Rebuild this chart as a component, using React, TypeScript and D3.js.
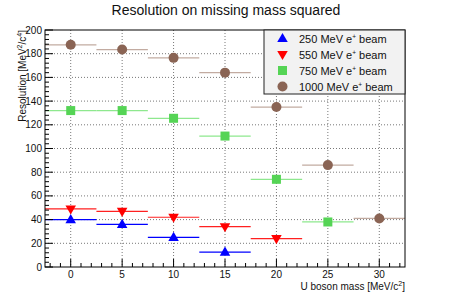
import React, { useRef, useEffect } from 'react';
import * as d3 from 'd3';

const massPoints = [0, 5, 10, 15, 20, 25, 30];
const res250 = [40, 36, 25, 12.5];
const res550 = [49, 47, 42, 34, 24];
const res750 = [132, 132, 125.5, 110.5, 74, 38];
const res1000 = [187.5, 183.5, 176.5, 164, 135, 86, 41];
const seriesNames = ['250 MeV e', '550 MeV e', '750 MeV e', '1000 MeV e'];
const xTicks = [0, 5, 10, 15, 20, 25, 30];
const yTicks = [0, 20, 40, 60, 80, 100, 120, 140, 160, 180, 200];

const series = [
  { name: seriesNames[0], values: res250, shape: 'up', fill: '#0000ff', line: '#0000ff' },
  { name: seriesNames[1], values: res550, shape: 'down', fill: '#ff0000', line: '#ff2020' },
  { name: seriesNames[2], values: res750, shape: 'square', fill: '#55d455', line: '#8ee88e' },
  { name: seriesNames[3], values: res1000, shape: 'circle', fill: '#8a6454', line: '#c2aba1' },
];

export default function App() {
  const svgRef = useRef<SVGSVGElement>(null);

  useEffect(() => {
    const svg = d3.select(svgRef.current);
    svg.selectAll('*').remove();
    const font = 'Liberation Sans, Arial, sans-serif';

    const left = 45, right = 405, top = 30, bottom = 267;
    const x = d3.scaleLinear().domain([-2.5, 32.5]).range([left, right]);
    const y = d3.scaleLinear().domain([0, 200]).range([bottom, top]);

    svg.append('rect').attr('width', 450).attr('height', 297).attr('fill', 'white');

    // grid
    const grid = svg.append('g').attr('stroke', '#555').attr('stroke-width', 0.8)
      .attr('stroke-dasharray', '1,2');
    xTicks.forEach(t => {
      grid.append('line').attr('x1', x(t)).attr('x2', x(t)).attr('y1', top).attr('y2', bottom);
    });
    yTicks.slice(1, -1).forEach(t => {
      grid.append('line').attr('x1', left).attr('x2', right).attr('y1', y(t)).attr('y2', y(t));
    });

    // error bars + markers
    const g = svg.append('g');
    series.forEach(s => {
      s.values.forEach((v, i) => {
        const m = massPoints[i];
        g.append('line')
          .attr('x1', x(m - 2.5)).attr('x2', x(m + 2.5))
          .attr('y1', y(v)).attr('y2', y(v))
          .attr('stroke', s.line).attr('stroke-width', 1.2);
      });
    });
    const drawMarker = (sel, shape, fill, cx, cy) => {
      if (shape === 'circle') {
        sel.append('circle').attr('cx', cx).attr('cy', cy).attr('r', 5).attr('fill', fill);
      } else if (shape === 'square') {
        sel.append('rect').attr('x', cx - 4.5).attr('y', cy - 4.5).attr('width', 9).attr('height', 9).attr('fill', fill);
      } else {
        const sym = d3.symbol().type(d3.symbolTriangle).size(48);
        sel.append('path').attr('d', sym())
          .attr('transform', `translate(${cx},${cy + (shape === 'up' ? 0.5 : -0.5)}) rotate(${shape === 'up' ? 0 : 180})`)
          .attr('fill', fill);
      }
    };
    series.forEach(s => {
      s.values.forEach((v, i) => drawMarker(g, s.shape, s.fill, x(massPoints[i]), y(v)));
    });

    // frame
    svg.append('rect').attr('x', left).attr('y', top).attr('width', right - left).attr('height', bottom - top)
      .attr('fill', 'none').attr('stroke', '#000').attr('stroke-width', 1);

    // ticks
    const ax = svg.append('g').attr('stroke', '#000').attr('stroke-width', 1);
    d3.range(0, 201, 4).forEach(t => {
      const len = t % 20 === 0 ? 8 : 4;
      ax.append('line').attr('x1', left).attr('x2', left + len).attr('y1', y(t)).attr('y2', y(t));
    });
    d3.range(-2, 33, 1).forEach(t => {
      const len = t % 5 === 0 ? 8 : 4;
      ax.append('line').attr('x1', x(t)).attr('x2', x(t)).attr('y1', bottom).attr('y2', bottom - len);
    });

    svg.append('g').selectAll('text').data(yTicks).enter().append('text')
      .attr('x', left - 3).attr('y', d => y(d) + 3.5)
      .attr('text-anchor', 'end').attr('font-family', font).attr('font-size', 10)
      .attr('fill', '#111').text(d => d);
    svg.append('g').selectAll('text').data(xTicks).enter().append('text')
      .attr('x', d => x(d)).attr('y', bottom + 11)
      .attr('text-anchor', 'middle').attr('font-family', font).attr('font-size', 10)
      .attr('fill', '#111').text(d => d);

    // titles
    svg.append('text').attr('x', 226).attr('y', 15).attr('text-anchor', 'middle')
      .attr('font-family', font).attr('font-size', 14).attr('fill', '#111')
      .text('Resolution on missing mass squared');

    const xt = svg.append('text').attr('x', right).attr('y', 290).attr('text-anchor', 'end')
      .attr('font-family', font).attr('font-size', 10).attr('fill', '#111');
    xt.append('tspan').text('U boson mass [MeV/c');
    xt.append('tspan').attr('dy', -4).attr('font-size', 7).text('2');
    xt.append('tspan').attr('dy', 4).text(']');

    const yt = svg.append('text').attr('transform', `translate(26,${top}) rotate(-90)`)
      .attr('text-anchor', 'end').attr('font-family', font).attr('font-size', 10).attr('fill', '#111');
    yt.append('tspan').text('Resolution [MeV');
    yt.append('tspan').attr('dy', -4).attr('font-size', 7).text('2');
    yt.append('tspan').attr('dy', 4).text('/c');
    yt.append('tspan').attr('dy', -4).attr('font-size', 7).text('4');
    yt.append('tspan').attr('dy', 4).text(']');

    // legend
    const lg = svg.append('g');
    lg.append('rect').attr('x', 264).attr('y', top).attr('width', right - 264).attr('height', 64)
      .attr('fill', '#f2f2f2').attr('stroke', '#222').attr('stroke-width', 1);
    series.forEach((s, i) => {
      const cy = 38.5 + i * 16;
      drawMarker(lg, s.shape, s.fill, 282.5, cy);
      const t = lg.append('text').attr('x', 299).attr('y', cy + 4)
        .attr('font-family', font).attr('font-size', 11).attr('fill', '#111');
      t.append('tspan').text(s.name);
      t.append('tspan').attr('dy', -4).attr('font-size', 6.5).text('+');
      t.append('tspan').attr('dy', 4).text(' beam');
    });
  }, []);

  return (
    <svg ref={svgRef} width={450} height={297}
      style={{ position: 'absolute', left: 0, top: 0 }} />
  );
}
